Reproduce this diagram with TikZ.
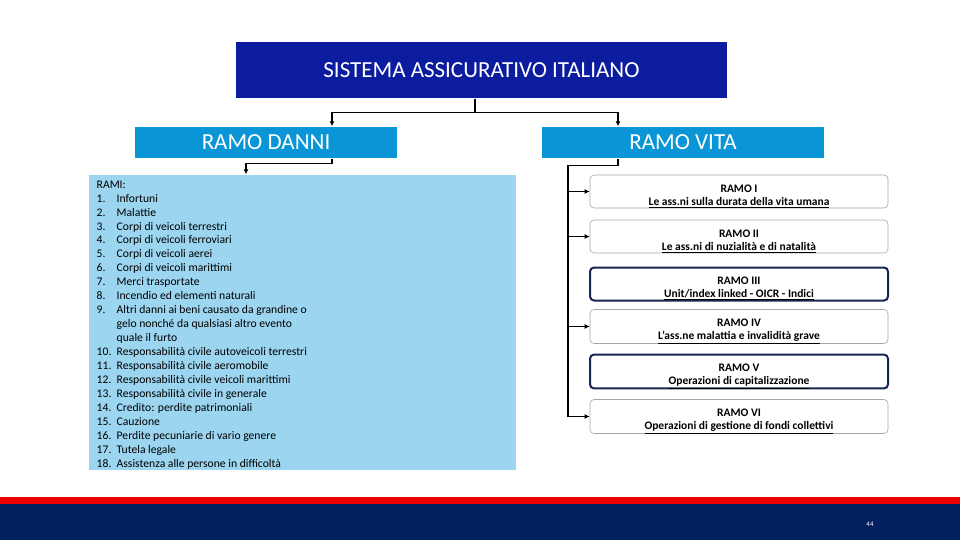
\documentclass[tikz,border=0pt]{standalone}
\usepackage{fontspec}
\setmainfont{Carlito}
\usepackage{xcolor}
\usetikzlibrary{arrows.meta,positioning}
\definecolor{titleblue}{RGB}{12,28,158}
\definecolor{ramoblue}{RGB}{10,150,214}
\definecolor{listblue}{RGB}{156,213,240}
\definecolor{footnavy}{RGB}{0,32,96}
\definecolor{footred}{RGB}{235,0,0}
\definecolor{boxnavy}{RGB}{22,40,80}
\newcommand{\voce}[2]{\makebox[20pt][l]{#1}#2}
\newcommand{\ramovita}[2]{\rule{0pt}{17pt}#1\\\underline{#2}}

\begin{document}
\begin{tikzpicture}[x=1pt,y=-1pt,line width=1.4pt,node distance=45pt,
  head/.style={fill=titleblue, text=white, minimum width=491pt, minimum height=56pt, font=\fontsize{23}{27}\selectfont},
  ramo/.style={fill=ramoblue, text=white, minimum height=31pt, font=\fontsize{23}{27}\selectfont},
  vita/.style={draw=gray!70, line width=0.6pt, rounded corners=4pt, fill=white, minimum width=298pt, minimum height=33pt, inner ysep=0pt, align=center, font=\fontsize{11.5}{13}\selectfont\bfseries},
  hl/.style={draw=boxnavy, line width=2pt},
  arr/.style={-{Latex[length=5pt,width=5pt]}}]
    \useasboundingbox (0,0) rectangle (960,540);

    \node[head] (sistema) at (481.5,70) {SISTEMA ASSICURATIVO ITALIANO};
    \node[ramo, minimum width=262pt] (danni) at (266,142.5) {RAMO DANNI};
    \node[ramo, minimum width=282pt] (vita) at (683,142.5) {RAMO VITA};

    \node[fill=listblue, minimum width=427pt, minimum height=295pt] (rami) at (302.5,322.5) {};
    \node[anchor=north west, align=left, inner sep=0pt, font=\fontsize{11.65}{13.95}\selectfont] (elenco) at (96,180) {RAMI:\\
      \voce{1.}{Infortuni}\\
      \voce{2.}{Malattie}\\
      \voce{3.}{Corpi di veicoli terrestri}\\
      \voce{4.}{Corpi di veicoli ferroviari}\\
      \voce{5.}{Corpi di veicoli aerei}\\
      \voce{6.}{Corpi di veicoli marittimi}\\
      \voce{7.}{Merci trasportate}\\
      \voce{8.}{Incendio ed elementi naturali}\\
      \voce{9.}{Altri danni ai beni causato da grandine o}\\
      \voce{}{gelo nonché da qualsiasi altro evento}\\
      \voce{}{quale il furto}\\
      \voce{10.}{Responsabilità civile autoveicoli terrestri}\\
      \voce{11.}{Responsabilità civile aeromobile}\\
      \voce{12.}{Responsabilità civile veicoli marittimi}\\
      \voce{13.}{Responsabilità civile in generale}\\
      \voce{14.}{Credito: perdite patrimoniali}\\
      \voce{15.}{Cauzione}\\
      \voce{16.}{Perdite pecuniarie di vario genere}\\
      \voce{17.}{Tutela legale}\\
      \voce{18.}{Assistenza alle persone in difficoltà}};

    \node[vita] (r1) at (739,191.5) {\ramovita{RAMO I}{Le ass.ni sulla durata della vita umana}};
    \node[vita, below of=r1] (r2) {\ramovita{RAMO II}{Le ass.ni di nuzialità e di natalità}};
    \node[vita, hl, below of=r2, yshift=-2.5pt] (r3) {\ramovita{RAMO III}{Unit/index linked - OICR - Indici}};
    \node[vita, below of=r2, node distance=90pt] (r4) {\ramovita{RAMO IV}{L’ass.ne malattia e invalidità grave}};
    \node[vita, hl, below of=r4] (r5) {\ramovita{RAMO V}{Operazioni di capitalizzazione}};
    \node[vita, below of=r5] (r6) {\ramovita{RAMO VI}{Operazioni di gestione di fondi collettivi}};

    \draw[arr] ([xshift=-6.5pt]sistema.south) -- ++(0,14) -| ([xshift=66pt]danni.north);
    \draw[arr] ([xshift=-6.5pt]sistema.south) -- ++(0,14) -| ([xshift=-65pt]vita.north);
    \draw[arr] ([xshift=66pt]danni.south) -- ++(0,5) -| ([xshift=-56.5pt]rami.north);

    \coordinate (spine) at (568,0);
    \draw[arr] ([xshift=-65pt]vita.south) -- ++(0,7) -| (spine |- r6.west) -- (r6.west);
    \foreach \r in {r1,r2,r4}
        \draw[arr] (spine |- \r.west) -- (\r.west);

    % footer
    \fill[footred] (0,497) rectangle (960,504);
    \fill[footnavy] (0,504) rectangle (960,540);
    \node[text=white, font=\fontsize{7}{8}\selectfont] (pagina) at (870,524) {44};
\end{tikzpicture}
\end{document}
